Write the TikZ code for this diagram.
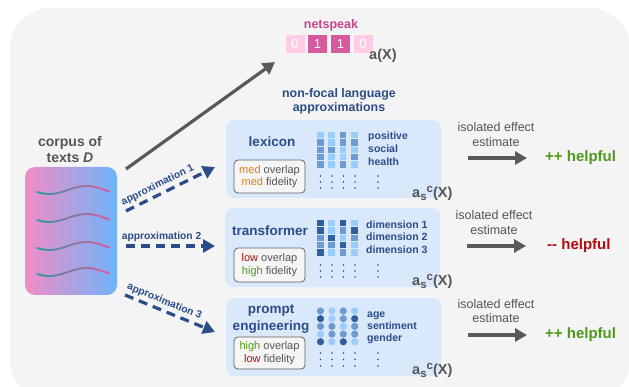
\documentclass[tikz,border=0pt]{standalone}
\usepackage{fontspec}
\setmainfont{Liberation Sans}
\usetikzlibrary{arrows.meta}
\definecolor{bg}{HTML}{F4F4F4}
\definecolor{dblue}{HTML}{2B4C87}
\definecolor{panel}{HTML}{DAE8FC}
\definecolor{gtext}{HTML}{555555}
\definecolor{garrow}{HTML}{595959}
\definecolor{hgreen}{HTML}{4D9A1A}
\definecolor{hred}{HTML}{B00E0E}
\definecolor{morange}{HTML}{E07B10}
\definecolor{npink}{HTML}{C8458A}
\definecolor{bdark}{HTML}{D85A9E}
\definecolor{blight}{HTML}{FFCCE5}
\definecolor{cL}{HTML}{99CCFF}
\definecolor{cM}{HTML}{6C9BD2}
\definecolor{cD}{HTML}{2F5F9E}
\definecolor{cpink}{HTML}{F28DC5}
\definecolor{cblue}{HTML}{6EB3FB}
\definecolor{wteal}{HTML}{2A9D9A}
\definecolor{wpink}{HTML}{E0559E}
\tikzset{
  panelbox/.style={fill=panel, rounded corners=8pt, draw=none, anchor=north west, minimum width=215pt, minimum height=78pt, inner sep=0},
  tagbox/.style={draw=gray!75!black, fill=white!96!black, rounded corners=4pt, line width=0.8pt, align=center, font=\fontsize{11}{12.5}\selectfont, text=gtext, inner sep=1pt, minimum width=71pt, minimum height=33pt},
  apname/.style={font=\fontsize{13.5}{17}\selectfont\bfseries, text=dblue, align=center, inner sep=0},
  dimword/.style={font=\fontsize{10.5}{12}\selectfont\bfseries, text=dblue, anchor=base west, inner sep=0},
  approx/.style={dblue, line width=3.2pt, dash pattern=on 9pt off 6pt, -{Triangle[length=12pt,width=13pt]}},
  alabel/.style={font=\fontsize{10.3}{12}\selectfont\bfseries, text=dblue, sloped, above, inner sep=2.5pt, pos=0.4},
  effarrow/.style={garrow, line width=3.2pt, -{Triangle[length=12pt,width=13pt]}},
  efflabel/.style={font=\fontsize{12.5}{14.5}\selectfont, text=gtext, align=center, inner sep=0},
  helpword/.style={font=\fontsize{15}{17}\selectfont\bfseries, anchor=west, inner sep=0},
  asc/.style={font=\fontsize{14.5}{16}\selectfont\bfseries, text=gtext, inner sep=0, anchor=base west},
  bitbox/.style={minimum width=19pt, minimum height=18pt, inner sep=0, text=white, font=\fontsize{13}{14}\selectfont},
}
\newcommand{\ascx}{a\raisebox{-3pt}{\fontsize{11.5}{12}\selectfont\bfseries s}\raisebox{5pt}{\fontsize{11.5}{12}\selectfont\bfseries c}(X)}
\begin{document}
\begin{tikzpicture}[x=1pt,y=-1pt]
\useasboundingbox (0,0) rectangle (629,387);
% background
\fill[bg, rounded corners=40pt] (10,8) rectangle (630,400);

% netspeak
\node[font=\fontsize{12.5}{14}\selectfont\bfseries, text=npink, inner sep=0] (netspeak) at (331,25) {netspeak};
\node[bitbox, fill=blight] (b0) at (295,44) {0};
\node[bitbox, fill=bdark] (b1) at (317.5,44) {1};
\node[bitbox, fill=bdark] (b2) at (340.5,44) {1};
\node[bitbox, fill=blight] (b3) at (363,44) {0};
\node[font=\fontsize{14.5}{16}\selectfont\bfseries, text=gtext, inner sep=0, anchor=west] (ax) at (369,56) {a(X)};

% corpus
\node[font=\fontsize{14}{16}\selectfont\bfseries, text=gtext, align=center, inner sep=0] (corptitle) at (70,149) {corpus of\\texts \textit{D}};
\node[left color=cpink, right color=cblue, rounded corners=10pt, minimum width=92pt, minimum height=128pt, inner sep=0] (corpus) at (71,231) {};
\foreach \yy in {190,218,246,272} {
  \foreach \i in {0,...,27} {
    \pgfmathsetmacro\ta{30+12.5*\i}
    \pgfmathsetmacro\tb{30+12.5*(\i+1)}
    \pgfmathsetmacro\xa{37+(\ta-30)/350*72}
    \pgfmathsetmacro\xb{37+(\tb-30)/350*72}
    \pgfmathsetmacro\ya{\yy+4*sin(\ta)}
    \pgfmathsetmacro\yb{\yy+4*sin(\tb)}
    \pgfmathtruncatemacro\pc{100*\i/27}
    \draw[line width=1.8pt, line cap=round, color=wpink!\pc!wteal] (\xa,\ya) -- (\xb,\yb);
  }
}

% big arrow to netspeak
\coordinate (nsstart) at (126,169);
\coordinate (nsend) at (275,62);
\draw[garrow, line width=3.2pt, -{Triangle[length=12pt,width=13pt]}] (nsstart) -- (nsend);

% heading
\node[font=\fontsize{12.4}{13.5}\selectfont\bfseries, text=dblue, align=center, inner sep=0] (nfhead) at (339,101.5) {non-focal language\\approximations};

% panels
\node[panelbox] (p1) at (226,120) {};
\node[panelbox, minimum height=79pt] (p2) at (225,208) {};
\node[panelbox] (p3) at (226,298) {};

\node[apname] (lex) at (272,142) {lexicon};
\node[apname] (trf) at (270,231) {transformer};
\node[apname] (prm) at (271,319.5) {prompt\\engineering};

\node[tagbox] (t1) at (269.5,176.5) {\textcolor{morange}{med} overlap\\\textcolor{morange}{med} fidelity};
\node[tagbox, minimum height=34pt] (t2) at (269.5,265) {\textcolor{hred}{low} overlap\\\textcolor{hgreen}{high} fidelity};
\node[tagbox, minimum height=32pt] (t3) at (269.5,353) {\textcolor{hgreen}{high} overlap\\\textcolor{hred}{low} fidelity};

% lexicon grid
\foreach \col [count=\i from 0] in {{L,M,M,M,M},{L,L,M,L,L},{M,M,L,L,M},{L,M,L,M,L}} {
  \foreach \k [count=\j from 0] in \col {
    \fill[c\k] (317+11.4*\i,132+7.3*\j) rectangle ++(6.6,6.5);
  }
}
% transformer grid
\foreach \col [count=\i from 0] in {{D,D,M,M,D},{L,L,D,M,L},{D,M,L,D,M},{L,D,M,L,L}} {
  \foreach \k [count=\j from 0] in \col {
    \fill[c\k] (317+11.4*\i,220+7.3*\j) rectangle ++(6.6,6.5);
  }
}
% prompt circles
\foreach \col [count=\i from 0] in {{M,D,M,L,D},{L,L,M,M,L},{M,M,L,M,D},{L,D,M,M,L}} {
  \foreach \k [count=\j from 0] in \col {
    \fill[c\k] (320.5+11.4*\i,311+7.7*\j) circle (3.6);
  }
}
% dots
\foreach \xx in {320.5,332,343.5,355,378} {
  \foreach \yy in {176,182,188, 265,271,277, 353,359.5,366} {
    \fill[dblue] (\xx,\yy) circle (0.8);
  }
}
% dimension words
\node[dimword] (w11) at (368,139.5) {positive};
\node[dimword] (w12) at (368,152.5) {social};
\node[dimword] (w13) at (368,165.5) {health};
\node[dimword] (w21) at (366,228.5) {dimension 1};
\node[dimword] (w22) at (366,240.5) {dimension 2};
\node[dimword] (w23) at (366,253.5) {dimension 3};
\node[dimword] (w31) at (367,317.5) {age};
\node[dimword] (w32) at (367,329.5) {sentiment};
\node[dimword] (w33) at (367,341.5) {gender};

\node[asc] (as1) at (412,197.5) {\ascx};
\node[asc] (as2) at (412,285.5) {\ascx};
\node[asc] (as3) at (412,374.5) {\ascx};

% approximation arrows
\coordinate (a1s) at (126,211);
\coordinate (a1e) at (215,167);
\coordinate (a2s) at (126,246);
\coordinate (a2e) at (215,246);
\coordinate (a3s) at (125,295);
\coordinate (a3e) at (215,332);
\draw[approx] (a1s) -- node[alabel] {approximation 1} (a1e);
\draw[approx] (a2s) -- node[alabel] {approximation 2} (a2e);
\draw[approx] (a3s) -- node[alabel] {approximation 3} (a3e);

% effect estimates
\node[efflabel] (e1) at (496,134.5) {isolated effect\\estimate};
\node[efflabel] (e2) at (494,222.5) {isolated effect\\estimate};
\node[efflabel] (e3) at (496,311) {isolated effect\\estimate};
\node[helpword, text=hgreen] (h1) at (545,158) {++ helpful};
\node[helpword, text=hred] (h2) at (547,246) {-{}- helpful};
\node[helpword, text=hgreen] (h3) at (545,335) {++ helpful};
\coordinate (e1s) at (468,158);
\coordinate (e2s) at (467,246);
\coordinate (e3s) at (468,335);
\draw[effarrow] (e1s) -- ([xshift=-18pt]h1.west);
\draw[effarrow] (e2s) -- ([xshift=-21pt]h2.west);
\draw[effarrow] (e3s) -- ([xshift=-18pt]h3.west);
\end{tikzpicture}
\end{document}
